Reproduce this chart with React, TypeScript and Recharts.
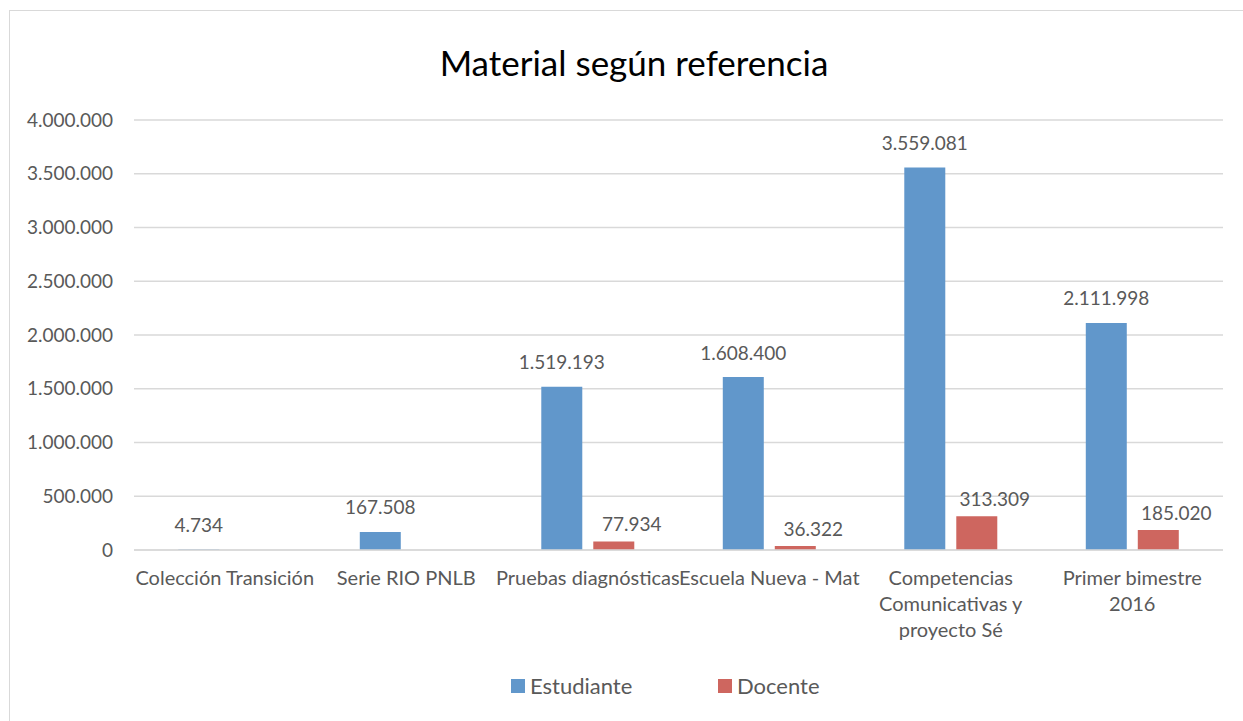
import React from 'react';
import { BarChart, Bar, XAxis, YAxis, CartesianGrid, Legend, LabelList } from 'recharts';

const categories = [
  'Colección Transición',
  'Serie RIO PNLB',
  'Pruebas diagnósticas',
  'Escuela Nueva - Mat',
  'Competencias Comunicativas y proyecto Sé',
  'Primer bimestre 2016',
];
const categoryLines = [
  ['Colección Transición'],
  ['Serie RIO PNLB'],
  ['Pruebas diagnósticas'],
  ['Escuela Nueva - Mat'],
  ['Competencias', 'Comunicativas y', 'proyecto Sé'],
  ['Primer bimestre', '2016'],
];
const estudiante = [4734, 167508, 1519193, 1608400, 3559081, 2111998];
const docente = [null, null, 77934, 36322, 313309, 185020];
const yTicks = [0, 500000, 1000000, 1500000, 2000000, 2500000, 3000000, 3500000, 4000000];
const seriesNames = ['Estudiante', 'Docente'];
const title = 'Material según referencia';

const BLUE = '#6197CB';
const RED = '#CE665F';
const TEXT = '#595959';
const FONT = 'Lato, "Open Sans", sans-serif';

const data = categories.map((c, i) => ({
  name: c,
  Estudiante: estudiante[i],
  Docente: docente[i],
}));

const fmt = (v: number) => String(Math.round(v)).replace(/\B(?=(\d{3})+(?!\d))/g, '.');

const XTick = (props: any) => {
  const { x, y, payload } = props;
  const lines = categoryLines[payload.index] || [String(payload.value)];
  return (
    <g transform={`translate(${x},${y})`}>
      <text textAnchor="middle" fill={TEXT} fontSize={20} fontFamily={FONT}>
        {lines.map((l, i) => (
          <tspan key={i} x={0} dy={i === 0 ? 27 : 26}>
            {l}
          </tspan>
        ))}
      </text>
    </g>
  );
};

const makeLabel = (dx: number, dy: number) => (props: any) => {
  const { x, y, width, value } = props;
  if (value === null || value === undefined) return null;
  return (
    <text
      x={Number(x) + Number(width) / 2 + dx}
      y={Number(y) - dy}
      textAnchor="middle"
      dominantBaseline="central"
      fill={TEXT}
      fontSize={19}
      fontFamily={FONT}
    >
      {fmt(Number(value))}
    </text>
  );
};

const LegendContent = () => (
  <div style={{ display: 'flex', alignItems: 'center', fontFamily: FONT, fontSize: 22, color: TEXT, marginTop: 6 }}>
    {seriesNames.map((n, i) => (
      <div key={n} style={{ display: 'flex', alignItems: 'center', width: i === 0 ? 207 : 'auto' }}>
        <div style={{ width: 14, height: 14, background: i === 0 ? BLUE : RED, marginRight: 5 }} />
        <span>{n}</span>
      </div>
    ))}
  </div>
);

export default function App() {
  return (
    <div style={{ position: 'absolute', left: 0, top: 0, width: 1243, height: 721, overflow: 'hidden', background: '#fff' }}>
      <div
        style={{
          position: 'absolute',
          left: 9,
          top: 10,
          width: 1260,
          height: 760,
          border: '1.5px solid #D9D9D9',
          boxSizing: 'border-box',
        }}
      />
      <div
        style={{
          position: 'absolute',
          left: 9,
          width: 1250,
          top: 39,
          textAlign: 'center',
          fontFamily: FONT,
          fontSize: 35,
          color: '#000',
          lineHeight: '46px',
        }}
      >
        {title}
      </div>
      <div style={{ position: 'absolute', left: 0, top: 0 }}>
        <BarChart
          width={1243}
          height={721}
          data={data}
          margin={{ top: 120, right: 20, left: 0, bottom: 15 }}
          barCategoryGap="24.4%"
          barGap={11}
        >
          <CartesianGrid vertical={false} stroke="#D9D9D9" strokeWidth={1.5} />
          <XAxis
            dataKey="name"
            tickLine={false}
            axisLine={{ stroke: '#D9D9D9', strokeWidth: 1.5 }}
            height={116}
            interval={0}
            tick={<XTick />}
          />
          <YAxis
            width={134}
            domain={[0, 4000000]}
            ticks={yTicks}
            tickLine={false}
            axisLine={false}
            tickMargin={15}
            tickFormatter={fmt}
            tick={{ fill: TEXT, fontSize: 19, fontFamily: FONT }}
          />
          <Legend verticalAlign="bottom" height={40} wrapperStyle={{ left: 511, width: 400 }} content={<LegendContent />} />
          <Bar dataKey="Estudiante" fill={BLUE} isAnimationActive={false}>
            <LabelList dataKey="Estudiante" content={makeLabel(0, 25)} />
          </Bar>
          <Bar dataKey="Docente" fill={RED} isAnimationActive={false}>
            <LabelList dataKey="Docente" content={makeLabel(18, 18)} />
          </Bar>
        </BarChart>
      </div>
    </div>
  );
}
